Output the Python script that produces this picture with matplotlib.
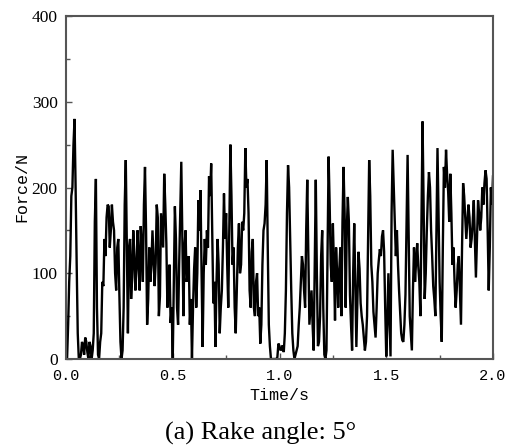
import numpy as np
import matplotlib
matplotlib.use("Agg")
import matplotlib.pyplot as plt
from matplotlib.ticker import MultipleLocator, FixedLocator

# Force samples read at t = 0.00, 0.01, ..., 2.00 s
force_on_grid = [
    0, 40, 120, 200, 280, 110, 0, 5, 15, 25,
    8, 20, 0, 30, 210, 5, 20, 90, 140, 165,
    178, 150, 160, 100, 130, 75, 0, 60, 232, 30,
    140, 95, 120, 105, 112, 155, 90, 224, 40, 130,
    110, 119, 112, 165, 73, 150, 216, 135, 80, 42,
    0, 178, 60, 110, 230, 50, 150, 100, 40, 0,
    105, 60, 185, 197, 14, 140, 150, 213, 228, 65,
    14, 140, 30, 80, 193, 170, 60, 250, 110, 60,
    80, 158, 110, 150, 246, 210, 80, 125, 60, 90,
    50, 18, 110, 158, 232, 40, 0, 0, 0, 2,
    15, 12, 8, 80, 226, 140, 30, 0, 10, 40,
    90, 110, 60, 209, 40, 80, 10, 209, 15, 50,
    150, 5, 10, 236, 110, 158, 45, 100, 104, 50,
    224, 60, 189, 75, 10, 158, 14, 125, 65, 40,
    10, 50, 232, 110, 55, 25, 100, 128, 143, 125,
    3, 100, 3, 244, 160, 150, 80, 30, 20, 75,
    238, 50, 10, 130, 115, 108, 50, 277, 70, 150,
    218, 150, 85, 50, 246, 90, 20, 224, 244, 195,
    216, 110, 90, 80, 120, 40, 205, 165, 160, 165,
    140, 185, 95, 185, 150, 200, 205, 210, 80, 200,
    213,
]
# Force samples read at t = 0.005, 0.015, ..., 1.995 s
force_between = [
    0, 90, 190, 250, 200, 30, 0, 20, 5, 20,
    0, 15, 10, 160, 60, 0, 30, 85, 120, 180,
    130, 180, 150, 80, 140, 20, 10, 180, 130, 130,
    70, 150, 80, 150, 80, 130, 180, 150, 70, 90,
    150, 85, 180, 50, 170, 130, 180, 60, 110, 60,
    90, 140, 40, 170, 140, 130, 90, 120, 70, 60,
    130, 100, 150, 100, 100, 110, 130, 190, 150, 90,
    90, 110, 60, 130, 140, 110, 160, 190, 130, 30,
    130, 100, 160, 170, 200, 170, 60, 140, 50, 100,
    60, 40, 150, 180, 130, 15, 0, 0, 0, 18,
    10, 16, 30, 170, 200, 80, 10, 5, 15, 60,
    120, 80, 150, 120, 60, 40, 110, 100, 20, 120,
    60, 0, 120, 180, 90, 110, 130, 60, 130, 160,
    170, 150, 160, 40, 100, 90, 70, 105, 50, 25,
    20, 140, 190, 90, 40, 60, 115, 120, 150, 60,
    40, 50, 170, 200, 120, 110, 55, 22, 40, 160,
    140, 30, 80, 90, 135, 90, 160, 180, 100, 190,
    200, 120, 70, 150, 170, 50, 130, 200, 215, 160,
    170, 130, 60, 110, 80, 130, 190, 140, 180, 130,
    160, 140, 140, 170, 165, 180, 220, 150, 130, 180,
]
dt = 0.005
force = []
for a, b in zip(force_on_grid[:-1], force_between):
    force += [a, b]
force.append(force_on_grid[-1])
time = np.arange(len(force)) * dt

x_ticks = [0.0, 0.5, 1.0, 1.5, 2.0]
x_tick_labels = ["0.0", "0.5", "1.0", "1.5", "2.0"]
y_ticks = [0, 100, 200, 300, 400]
y_tick_labels = ["0", "100", "200", "300", "400"]
x_label = "Time/s"
y_label = "Force/N"
caption = "(a) Rake angle: 5°"

fig = plt.figure(figsize=(5.16, 4.47), dpi=100)
ax = fig.add_axes([66/516, 1 - 359/447, (493 - 66)/516, (359 - 16)/447])
ax.plot(time, force, color="black", lw=1.7, solid_joinstyle="miter")
ax.set_xlim(0, 2.0)
ax.set_ylim(0, 400)

ax.xaxis.set_major_locator(FixedLocator(x_ticks))
ax.set_xticklabels(x_tick_labels, family="Liberation Mono", fontsize=11)
ax.xaxis.set_minor_locator(MultipleLocator(0.25))
ax.yaxis.set_major_locator(FixedLocator(y_ticks))
ax.set_yticklabels(y_tick_labels, family="Liberation Serif", fontsize=12.5)
ax.yaxis.set_minor_locator(MultipleLocator(50))

ax.tick_params(which="both", direction="in", color="#555555", width=1.0)
ax.tick_params(which="major", length=4)
ax.tick_params(which="minor", length=3)
ax.tick_params(axis="x", pad=7)
ax.tick_params(axis="y", pad=6)
ax.tick_params(axis="both", which="both", top=False, right=False)

for s in ax.spines.values():
    s.set_color("#555555")
    s.set_linewidth(1.5)

ax.set_xlabel(x_label, family="Liberation Mono", fontsize=12, labelpad=4)
ax.set_ylabel(y_label, family="Liberation Mono", fontsize=12, labelpad=2)

fig.text(261/516, 1 - 433/447, caption, family="Liberation Serif",
         fontsize=19, ha="center", va="center")

fig.savefig("out.png", dpi=100, facecolor="white")
